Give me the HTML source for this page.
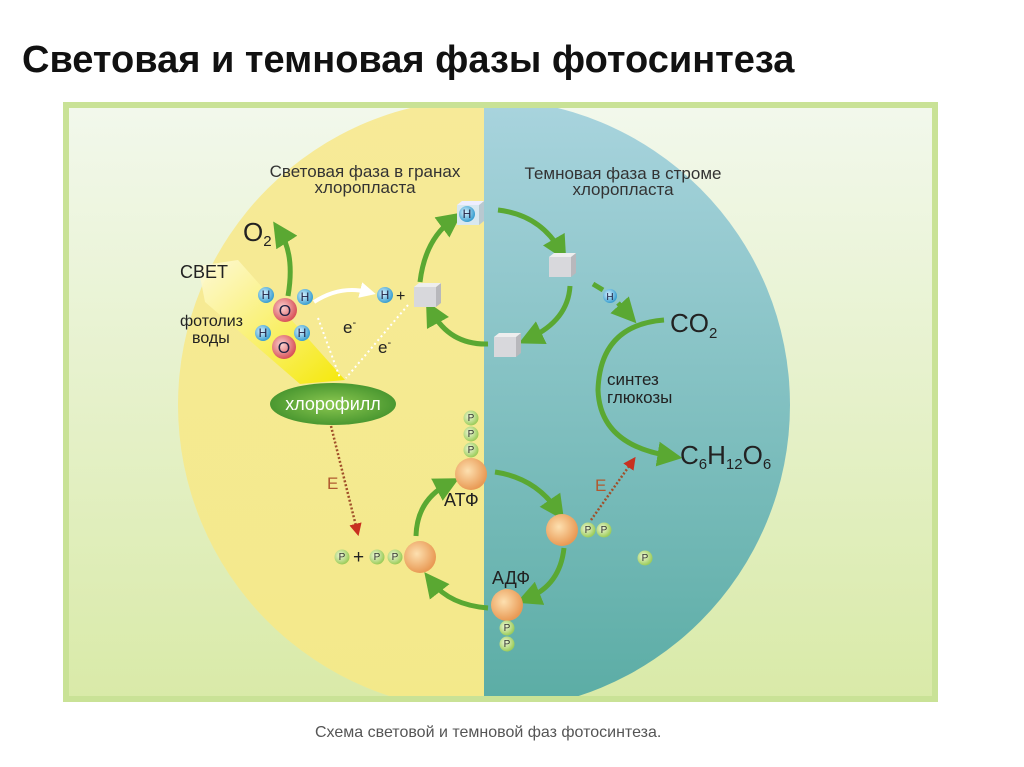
<!DOCTYPE html>
<html><head><meta charset="utf-8"><style>
html,body{margin:0;padding:0;background:#fff;width:1024px;height:767px;overflow:hidden}
svg{display:block;font-family:"Liberation Sans",sans-serif}
</style></head><body>
<svg width="1024" height="767" viewBox="0 0 1024 767" xmlns="http://www.w3.org/2000/svg">
<defs>
<linearGradient id="bg" x1="0" y1="0" x2="0" y2="1"><stop offset="0" stop-color="#f2f8ec"/><stop offset="1" stop-color="#d9eaa8"/></linearGradient>
<linearGradient id="teal" x1="0" y1="0" x2="0" y2="1"><stop offset="0" stop-color="#a9d4de"/><stop offset="1" stop-color="#5aaca4"/></linearGradient>
<linearGradient id="yel" x1="0" y1="0" x2="0" y2="1"><stop offset="0" stop-color="#f7ea98"/><stop offset="1" stop-color="#f3e98a"/></linearGradient>
<radialGradient id="ball" cx="0.4" cy="0.4" r="0.6"><stop offset="0" stop-color="#fde0b0"/><stop offset="1" stop-color="#e99a55"/></radialGradient>
<radialGradient id="pb" cx="0.4" cy="0.4" r="0.6"><stop offset="0" stop-color="#f0f9d8"/><stop offset="1" stop-color="#9ccc5a"/></radialGradient>
<radialGradient id="hb" cx="0.4" cy="0.4" r="0.6"><stop offset="0" stop-color="#d8f2ff"/><stop offset="1" stop-color="#3a9fd0"/></radialGradient>
<radialGradient id="ob" cx="0.4" cy="0.4" r="0.6"><stop offset="0" stop-color="#fbd2d0"/><stop offset="1" stop-color="#d9545a"/></radialGradient>
<radialGradient id="chl" cx="0.5" cy="0.5" r="0.6"><stop offset="0" stop-color="#8cc850"/><stop offset="1" stop-color="#3d8e2a"/></radialGradient>
<linearGradient id="beam" x1="0" y1="0" x2="1" y2="1"><stop offset="0" stop-color="#fffbe0" stop-opacity="0.9"/><stop offset="1" stop-color="#f5e800"/></linearGradient>
<marker id="ga" markerWidth="5" markerHeight="5" refX="2.5" refY="2.5" orient="auto" markerUnits="strokeWidth"><path d="M0,0 L5,2.5 L0,5 z" fill="#5aa832"/></marker>
<marker id="wa" markerWidth="4" markerHeight="4" refX="2" refY="2" orient="auto" markerUnits="strokeWidth"><path d="M0,0 L4,2 L0,4 z" fill="#fff"/></marker>
<marker id="ra" markerWidth="5" markerHeight="5" refX="2.5" refY="2.5" orient="auto" markerUnits="strokeWidth"><path d="M0,0 L5,2.5 L0,5 z" fill="#c83020"/></marker>
<clipPath id="pc"><rect x="69" y="108" width="863" height="588"/></clipPath>
<clipPath id="lh"><rect x="0" y="0" width="484" height="767"/></clipPath>
<clipPath id="rh"><rect x="484" y="0" width="540" height="767"/></clipPath>
</defs>
<text x="22" y="72" font-size="38" font-weight="bold" fill="#111">Световая и темновая фазы фотосинтеза</text>
<rect x="66" y="105" width="869" height="594" fill="url(#bg)" stroke="#c9e296" stroke-width="6"/>
<g clip-path="url(#pc)">
<circle cx="484" cy="405" r="306" fill="url(#yel)" clip-path="url(#lh)"/>
<circle cx="484" cy="405" r="306" fill="url(#teal)" clip-path="url(#rh)"/>
</g>
<g font-size="17" fill="#333" text-anchor="middle">
<text x="365" y="177">Световая фаза в гранах</text><text x="365" y="193">хлоропласта</text>
<text x="623" y="179">Темновая фаза в строме</text><text x="623" y="195">хлоропласта</text>
</g>
<!-- light beam -->
<polygon points="198,266 238,260 345,380 300,384 205,302" fill="url(#beam)" opacity="0.95"/>
<text x="180" y="278" font-size="18" fill="#222">СВЕТ</text>
<text x="180" y="326" font-size="16" fill="#222">фотолиз</text>
<text x="192" y="343" font-size="16" fill="#222">воды</text>
<text x="243" y="241" font-size="26" fill="#222">O<tspan font-size="15" dy="5">2</tspan></text>
<g fill="none" stroke="#5aa832" stroke-width="5">
<path d="M288,296 Q295,255 280,232" marker-end="url(#ga)"/>
<path d="M420,282 Q425,240 452,220" marker-end="url(#ga)"/>
<path d="M498,210 Q540,215 560,250" marker-end="url(#ga)"/>
<path d="M570,286 Q568,320 530,338" marker-end="url(#ga)"/>
<path d="M488,344 Q450,345 432,312" marker-end="url(#ga)"/>
<path d="M593,284 L603,290" />
<path d="M618,303 L628,314" marker-end="url(#ga)"/>
<path d="M664,320 Q600,325 598,390 Q600,445 670,456" marker-end="url(#ga)"/>
<path d="M495,472 Q535,478 557,510" marker-end="url(#ga)"/>
<path d="M564,548 Q560,585 528,598" marker-end="url(#ga)"/>
<path d="M488,608 Q450,605 432,582" marker-end="url(#ga)"/>
<path d="M416,536 Q417,500 448,484" marker-end="url(#ga)"/>
</g>
<path d="M314,302 Q340,285 368,292" fill="none" stroke="#fff" stroke-width="4" marker-end="url(#wa)"/>
<g stroke="#fff" stroke-width="2" stroke-dasharray="2,3" fill="none">
<path d="M318,318 L340,378"/><path d="M408,305 L346,378"/>
</g>
<text x="343" y="333" font-size="17" fill="#222">e<tspan font-size="11" dy="-7">-</tspan></text>
<text x="378" y="353" font-size="17" fill="#222">e<tspan font-size="11" dy="-7">-</tspan></text>
<!-- water molecules -->
<g font-size="12" text-anchor="middle" fill="#224">
<circle cx="266" cy="295" r="8" fill="url(#hb)"/><text x="266" y="299">H</text>
<circle cx="305" cy="297" r="8" fill="url(#hb)"/><text x="305" y="301">H</text>
<circle cx="285" cy="310" r="12" fill="url(#ob)"/><text x="285" y="316" font-size="16">O</text>
<circle cx="263" cy="333" r="8" fill="url(#hb)"/><text x="263" y="337">H</text>
<circle cx="302" cy="333" r="8" fill="url(#hb)"/><text x="302" y="337">H</text>
<circle cx="284" cy="347" r="12" fill="url(#ob)"/><text x="284" y="353" font-size="16">O</text>
<circle cx="385" cy="295" r="8" fill="url(#hb)"/><text x="385" y="299">H</text>
<circle cx="610" cy="296" r="7" fill="url(#hb)"/><text x="610" y="300" font-size="10">H</text>
</g>
<text x="396" y="301" font-size="16" fill="#222">+</text>
<!-- cubes -->
<g>
<rect x="414" y="287" width="22" height="20" fill="#d8d8dc"/><polygon points="436,287 441,283 441,303 436,307" fill="#b8b8bc"/><polygon points="414,287 419,283 441,283 436,287" fill="#eee"/>
<rect x="457" y="205" width="22" height="20" fill="#d8e8f0"/><polygon points="479,205 484,201 484,221 479,225" fill="#b8c8d0"/><polygon points="457,205 462,201 484,201 479,205" fill="#eef"/>
<rect x="549" y="257" width="22" height="20" fill="#d8d8dc"/><polygon points="571,257 576,253 576,273 571,277" fill="#b8b8bc"/><polygon points="549,257 554,253 576,253 571,257" fill="#eee"/>
<rect x="494" y="337" width="22" height="20" fill="#d8d8dc"/><polygon points="516,337 521,333 521,353 516,357" fill="#b8b8bc"/><polygon points="494,337 499,333 521,333 516,337" fill="#eee"/>
</g>
<circle cx="467" cy="214" r="8" fill="url(#hb)"/><text x="467" y="218" font-size="12" text-anchor="middle" fill="#224">H</text>
<!-- chlorophyll -->
<ellipse cx="333" cy="404" rx="63" ry="21" fill="url(#chl)"/>
<text x="333" y="410" font-size="18" fill="#fff" text-anchor="middle">хлорофилл</text>
<!-- CO2 etc -->
<text x="670" y="332" font-size="26" fill="#222">CO<tspan font-size="15" dy="6">2</tspan></text>
<text x="607" y="385" font-size="17" fill="#222">синтез</text>
<text x="607" y="403" font-size="17" fill="#222">глюкозы</text>
<text x="680" y="464" font-size="26" fill="#222">C<tspan font-size="15" dy="5">6</tspan><tspan dy="-5">H</tspan><tspan font-size="15" dy="5">12</tspan><tspan dy="-5">O</tspan><tspan font-size="15" dy="5">6</tspan></text>
<!-- energy arrows -->
<g stroke="#a0502a" stroke-width="2.5" stroke-dasharray="2,2" fill="none">
<path d="M331,426 L357,530" marker-end="url(#ra)"/>
<path d="M591,520 L632,462" marker-end="url(#ra)"/>
</g>
<text x="327" y="489" font-size="17" fill="#b05a30">E</text>
<text x="595" y="491" font-size="17" fill="#b05a30">E</text>
<!-- balls -->
<g>
<circle cx="471" cy="474" r="16" fill="url(#ball)"/>
<circle cx="562" cy="530" r="16" fill="url(#ball)"/>
<circle cx="507" cy="605" r="16" fill="url(#ball)"/>
<circle cx="420" cy="557" r="16" fill="url(#ball)"/>
</g>
<text x="444" y="506" font-size="18" fill="#222">АТФ</text>
<text x="492" y="584" font-size="18" fill="#222">АДФ</text>
<g font-size="10" text-anchor="middle" fill="#333">
<circle cx="471" cy="418" r="7.5" fill="url(#pb)"/><text x="471" y="421">P</text>
<circle cx="471" cy="434" r="7.5" fill="url(#pb)"/><text x="471" y="437">P</text>
<circle cx="471" cy="450" r="7.5" fill="url(#pb)"/><text x="471" y="453">P</text>
<circle cx="588" cy="530" r="7.5" fill="url(#pb)"/><text x="588" y="533">P</text>
<circle cx="604" cy="530" r="7.5" fill="url(#pb)"/><text x="604" y="533">P</text>
<circle cx="507" cy="628" r="7.5" fill="url(#pb)"/><text x="507" y="631">P</text>
<circle cx="507" cy="644" r="7.5" fill="url(#pb)"/><text x="507" y="647">P</text>
<circle cx="342" cy="557" r="7.5" fill="url(#pb)"/><text x="342" y="560">P</text>
<circle cx="377" cy="557" r="7.5" fill="url(#pb)"/><text x="377" y="560">P</text>
<circle cx="395" cy="557" r="7.5" fill="url(#pb)"/><text x="395" y="560">P</text>
<circle cx="645" cy="558" r="7.5" fill="url(#pb)"/><text x="645" y="561">P</text>
</g>
<text x="353" y="563" font-size="19" fill="#222">+</text>
<text x="315" y="737" font-size="16" fill="#555">Схема световой и темновой фаз фотосинтеза.</text>
</svg>
</body></html>
